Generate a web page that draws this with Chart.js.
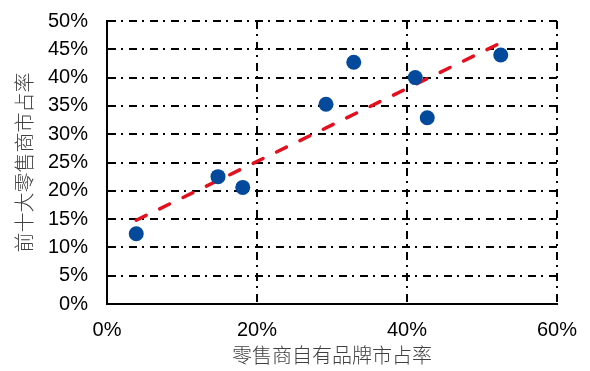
<!DOCTYPE html>
<html>
<head>
<meta charset="utf-8">
<script src="https://cdn.jsdelivr.net/npm/chart.js@4.4.1/dist/chart.umd.min.js"></script>
<style>
  html, body { margin: 0; padding: 0; background: #ffffff; }
  #wrap { width: 590px; height: 371px; }
</style>
</head>
<body>
<div id="wrap"><canvas id="c" width="590" height="371"></canvas></div>
<script>
// Private-label share vs. top-10 retailer share (percent)
const brandShare  = [3.9, 14.8, 18.1, 29.2, 32.9, 41.1, 42.7, 52.5];
const topTenShare = [12.4, 22.5, 20.6, 35.3, 42.7, 40.0, 32.9, 44.0];

// Linear trend endpoints
const trendX = [3.9, 52.6];
const trendY = [14.8, 46.2];

// Axis ranges and labels
const xTickValues = [0, 20, 40, 60];
const yTickValues = [0, 5, 10, 15, 20, 25, 30, 35, 40, 45, 50];
const xAxisTitle = '零售商自有品牌市占率';
const yAxisTitle = '前十大零售商市占率';

const toPoints = (xs, ys) => xs.map((x, i) => ({ x: x, y: ys[i] }));

const gridDash = [8, 5, 2, 6];
const tickFont = { family: '"Liberation Sans", Arial, sans-serif', size: 20 };
const titleFont = { family: '"Noto Sans CJK SC", sans-serif', size: 20, weight: 300 };

new Chart(document.getElementById('c'), {
  type: 'scatter',
  data: {
    datasets: [
      {
        label: 'retailers',
        data: toPoints(brandShare, topTenShare),
        backgroundColor: '#034a9c',
        borderColor: '#034a9c',
        pointRadius: 7.5,
        pointHoverRadius: 7.5,
        borderWidth: 0
      },
      {
        label: 'trend',
        data: toPoints(trendX, trendY),
        showLine: true,
        pointRadius: 0,
        borderColor: '#e3101f',
        borderWidth: 3.5,
        borderCapStyle: 'round',
        borderDash: [11, 15],
        fill: false
      }
    ]
  },
  options: {
    responsive: false,
    animation: false,
    layout: { autoPadding: false, padding: { left: 12, right: 33, top: 21, bottom: 4 } },
    plugins: { legend: { display: false }, tooltip: { enabled: false } },
    scales: {
      x: {
        type: 'linear',
        min: 0,
        max: 60,
        afterBuildTicks: (scale) => { scale.ticks = xTickValues.map(v => ({ value: v })); },
        afterFit: (scale) => {
          scale.height = 63;
          scale.paddingLeft = 0;
          scale.paddingRight = 0;
        },
        ticks: {
          color: '#000000',
          font: tickFont,
          padding: 14,
          maxRotation: 0,
          callback: (v) => v + '%'
        },
        grid: { color: '#000000', lineWidth: 2, drawTicks: false },
        border: { display: true, color: '#000000', width: 2, dash: gridDash },
        title: {
          display: true,
          text: xAxisTitle,
          color: '#404040',
          font: titleFont,
          padding: { top: 0, bottom: 0 }
        }
      },
      y: {
        type: 'linear',
        min: 0,
        max: 50,
        afterBuildTicks: (scale) => { scale.ticks = yTickValues.map(v => ({ value: v })); },
        afterFit: (scale) => {
          scale.width = 95;
          scale.paddingTop = 0;
          scale.paddingBottom = 0;
        },
        ticks: {
          color: '#000000',
          font: tickFont,
          padding: 19,
          callback: (v) => v + '%'
        },
        grid: { color: '#000000', lineWidth: 2, drawTicks: false },
        border: { display: true, color: '#000000', width: 2, dash: gridDash },
        title: {
          display: true,
          text: yAxisTitle,
          color: '#404040',
          font: titleFont,
          padding: { top: 0, bottom: 0 }
        }
      }
    }
  }
});
</script>
</body>
</html>
